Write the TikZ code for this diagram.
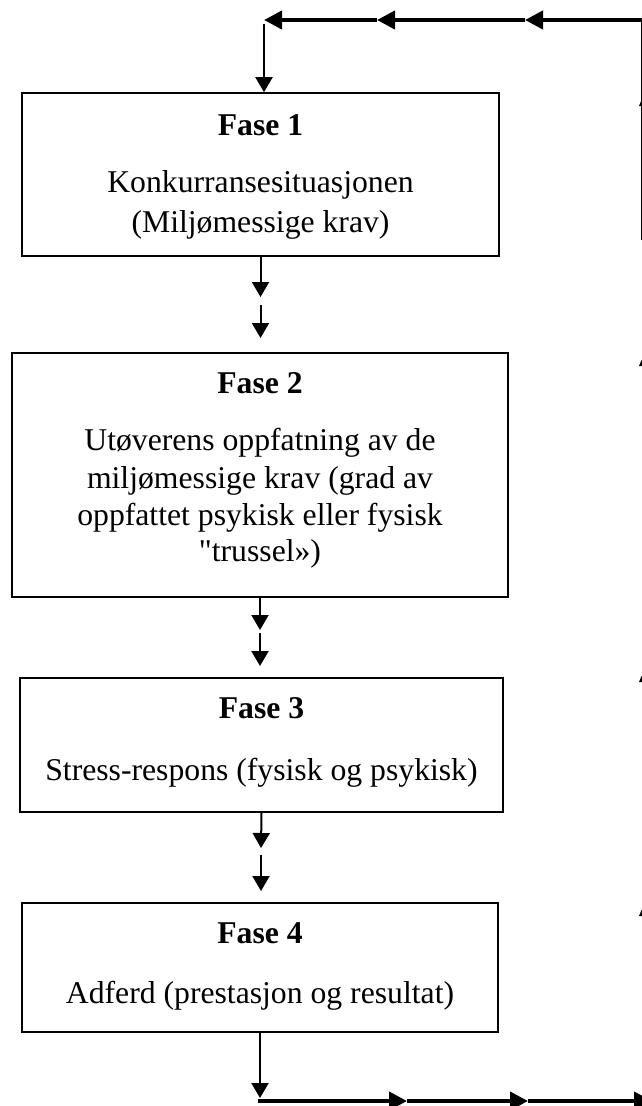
\documentclass[tikz,border=0pt]{standalone}
\usepackage{fontspec}
\setmainfont{Liberation Serif}
\font\rawserif="Liberation Serif" at 31.7pt
\usetikzlibrary{arrows.meta}
\begin{document}
\begin{tikzpicture}[x=1pt,y=-1pt,
  box/.style={draw,line width=1.6pt,inner sep=0pt,rectangle},
  lbl/.style={anchor=base,inner sep=0pt,font=\fontsize{31.7}{37}\selectfont},
  hd/.style={anchor=base,inner sep=0pt,font=\fontsize{31.7}{37}\selectfont\bfseries},
  arr/.style={line width=2pt,-{Triangle[length=15pt,width=17pt]}},
  flowarr/.style={line width=4pt,-{Triangle[length=18pt,width=18pt]}},
  tipfrag/.style={fill=black,draw=none}]
\useasboundingbox (0,0) rectangle (642,1106);
\clip (0,0) rectangle (642,1106);

% boxes
\node[box,minimum width=477pt,minimum height=163pt] (b1) at (260.5,174.5) {};
\node[box,minimum width=496pt,minimum height=244pt] (b2) at (260,475) {};
\node[box,minimum width=483pt,minimum height=134pt] (b3) at (261.5,745) {};
\node[box,minimum width=476pt,minimum height=129pt] (b4) at (260,967.5) {};

% texts
\node[hd] (h1) at (260.5,135) {Fase 1};
\node[lbl] (t1a) at (260.5,192) {Konkurransesituasjonen};
\node[lbl] (t1b) at (260.5,232) {(Miljømessige krav)};

\node[hd] (h2) at (260,393) {Fase 2};
\node[lbl] (t2a) at (260,450) {Utøverens oppfatning av de};
\node[lbl] (t2b) at (260,488) {miljømessige krav (grad av};
\node[lbl] (t2c) at (260,525) {oppfattet psykisk eller fysisk};
\node[lbl] (t2d) at (260,561) {{\rawserif"}trussel»)};

\node[hd] (h3) at (261.5,718) {Fase 3};
\node[lbl] (t3a) at (261.5,780) {Stress-respons (fysisk og psykisk)};

\node[hd] (h4) at (260,943) {Fase 4};
\node[lbl] (t4a) at (260,1003) {Adferd (prestasjon og resultat)};

% coordinates of the loop
\coordinate (tr) at (648,20);
\coordinate (tm1) at (525,20);
\coordinate (tm2) at (377,20);
\coordinate (tl) at (264,20);
\coordinate (tld) at (264,24);

\coordinate (s1a) at (260.5,297);
\coordinate (s1b) at (260.5,305);
\coordinate (s1c) at (260.5,338);
\coordinate (s2a) at (260,630);
\coordinate (s2b) at (260,633);
\coordinate (s2c) at (260,666);
\coordinate (s3a) at (261,848);
\coordinate (s3b) at (261,855);
\coordinate (s3c) at (261,891);
\coordinate (bd) at (260,1098);

\coordinate (bl) at (258,1101);
\coordinate (bm1) at (407,1101);
\coordinate (bm2) at (528,1101);
\coordinate (br) at (652,1101);

% top feedback line
\draw[flowarr] (tr) -- (tm1);
\draw[flowarr] (tm1) -- (tm2);
\draw[flowarr] (tm2) -- (tl);
\draw[arr] (tld) -- (tld |- b1.north);

% between boxes
\draw[arr] (b1.south) -- (s1a);
\draw[arr] (s1b) -- (s1c);
\draw[arr] (b2.south) -- (s2a);
\draw[arr] (s2b) -- (s2c);
\draw[arr] (b3.south) -- (s3a);
\draw[arr] (s3b) -- (s3c);
\draw[arr] (b4.south) -- (bd);

% bottom line
\draw[flowarr] (bl) -- (bm1);
\draw[flowarr] (bm1) -- (bm2);
\draw[flowarr] (bm2) -- (br);

% right side (mostly cut off)
\coordinate (rv1) at (641.3,20);
\coordinate (rv2) at (641.3,240);
\draw[line width=1.4pt] (rv1) -- (rv2);
\foreach \yy in {100,360,676,910}{
  \fill[tipfrag] (641.5,\yy) -- (643,\yy+6) -- (639,\yy+6) -- cycle;
}
\end{tikzpicture}
\end{document}
